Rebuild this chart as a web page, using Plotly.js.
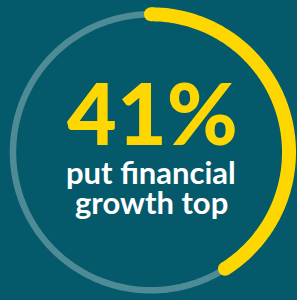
<!DOCTYPE html>
<html><head>
<script src="https://cdn.plot.ly/plotly-3.0.1.min.js"></script>
<style>html,body{margin:0;padding:0;background:#04596A;}#c{width:297px;height:300px;}</style>
</head><body><div id="c"></div>
<script>
const labels = ["Financial growth top", "Other"];
const values = [41, 59];
const bigLabel = "41%";
const caption = ["put financial", "growth top"];

const total = values.reduce((a, b) => a + b, 0);
const endDeg = values[0] / total * 360;
const ringR = 138 / 146;
function arc(a0, a1) {
  const th = [];
  const n = Math.max(2, Math.ceil((a1 - a0) / 1));
  for (let i = 0; i <= n; i++) th.push(a0 + (a1 - a0) * i / n);
  return {theta: th, r: th.map(() => ringR)};
}
const g = arc(endDeg, 360);
const y = arc(0, endDeg);
const traces = [
  {type: "scatterpolar", mode: "lines", r: g.r, theta: g.theta, line: {color: "#4F8B97", width: 6.5}, hoverinfo: "skip", name: labels[1]},
  {type: "scatterpolar", mode: "lines", r: y.r, theta: y.theta, line: {color: "#FFD700", width: 14}, hoverinfo: "skip", name: labels[0]},
  {type: "scatterpolar", mode: "markers", r: [ringR, ringR], theta: [0, endDeg], marker: {color: "#FFD700", size: 14, line: {width: 0}}, hoverinfo: "skip"}
];
const fam = "Lato, 'Source Sans Pro', sans-serif";
const layout = {
  width: 297, height: 300,
  margin: {l: 0, r: 0, t: 0, b: 0},
  paper_bgcolor: "#04596A", plot_bgcolor: "#04596A",
  showlegend: false,
  polar: {
    domain: {x: [5/297, 1], y: [1.7/300, 293.7/300]},
    bgcolor: "rgba(0,0,0,0)",
    radialaxis: {range: [0, 1], visible: false},
    angularaxis: {visible: false, rotation: 90, direction: "clockwise"}
  },
  annotations: [
    {text: bigLabel, x: 152.5/297, y: 0.451, xref: "paper", yref: "paper", xanchor: "center", yanchor: "bottom", showarrow: false,
     font: {family: fam, size: 86, weight: 900, color: "#FFD700"}},
    {text: caption[0], x: 151/297, y: 0.498, xref: "paper", yref: "paper", xanchor: "center", yanchor: "top", showarrow: false,
     font: {family: fam, size: 31, weight: 700, color: "#FFFFFF"}},
    {text: caption[1], x: 151/297, y: 0.398, xref: "paper", yref: "paper", xanchor: "center", yanchor: "top", showarrow: false,
     font: {family: fam, size: 31, weight: 700, color: "#FFFFFF"}}
  ]
};
Plotly.newPlot("c", traces, layout, {displayModeBar: false, staticPlot: true});
</script>
</body></html>
